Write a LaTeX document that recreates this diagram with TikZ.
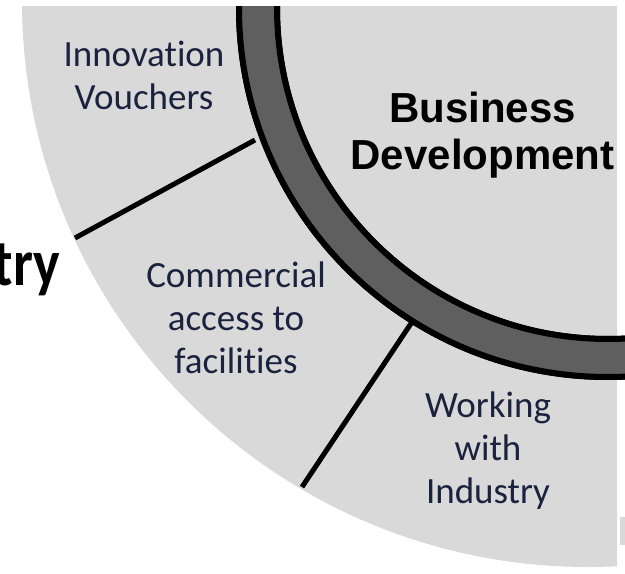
\documentclass[tikz,border=0pt]{standalone}
\usepackage{fontspec}
\setmainfont{Carlito}[Ligatures=NoCommon]
\newfontfamily\arialfont{Liberation Sans}
\definecolor{discgray}{RGB}{217,217,217}
\definecolor{ringgray}{RGB}{95,95,95}
\definecolor{labelblue}{RGB}{26,34,62}
\tikzset{
  segtext/.style={
    anchor=base,
    inner sep=0pt,
    align=center,
    text=labelblue,
    font=\fontsize{27.75}{32.25}\selectfont},
  coretext/.style={
    anchor=base,
    inner sep=0pt,
    align=center,
    font=\arialfont\bfseries\fontsize{31.5}{35.25}\selectfont},
  spoke/.style={draw=black, line width=3.75pt},
}

\begin{document}
\begin{tikzpicture}[x=0.75pt,y=-0.75pt]

    \useasboundingbox (0,0) rectangle (625,574);
    \clip (0,0) rectangle (625,574);

    \coordinate (disc) at (588,1);
    \coordinate (ring) at (608,8);

    % light outer disc
    \begin{scope}
      \clip (0,7) rectangle (617,574);
      \fill[discgray] (disc) circle (566);
    \end{scope}
    \fill[discgray] (620,517) rectangle (625,545);

    % spokes between the segments
    \coordinate (s1a) at (255,140);
    \coordinate (s1b) at (75,238);
    \coordinate (s2a) at (412,322);
    \coordinate (s2b) at (302,487);
    \draw[spoke] (s1a) -- (s1b);
    \draw[spoke] (s2a) -- (s2b);

    % dark ring with its shadow
    \begin{scope}
      \clip (0,7) rectangle (625,574);
      \fill[black, even odd rule, shift={(-4,-4)}]
        (ring) circle (372) (ring) circle (328);
      \draw[line width=4.5pt, fill=ringgray, even odd rule]
        (ring) circle (369) (ring) circle (331);
    \end{scope}

    % base anchor sits on the last line
    \node[coretext] (bizdev) at (482.5,170) {Business\\Development};

    \node[segtext] (innov) at (144,110) {Innovation\\Vouchers};
    \node[segtext] (access) at (236,373) {Commercial\\access to\\facilities};
    \node[segtext] (working) at (488,503) {Working\\with\\Industry};

    \node[anchor=base east, inner sep=0pt, transform shape, xscale=0.85,
          font=\bfseries\fontsize{49.5}{55}\selectfont] (cut) at (60,285) {try};

\end{tikzpicture}
\end{document}
